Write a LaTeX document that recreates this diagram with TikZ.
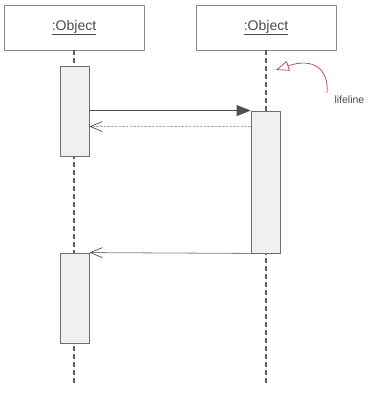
\documentclass[tikz,border=0pt]{standalone}
\usepackage{fontspec}
\setmainfont{Liberation Sans}
\usetikzlibrary{arrows.meta,positioning,calc}
\definecolor{SQBorder}  {HTML}{8A8A8A}
\definecolor{SQText}    {HTML}{4A4A4A}
\definecolor{SQLife}    {HTML}{5E5E5E}
\definecolor{SQActFill} {HTML}{F0F0F0}
\definecolor{SQActLine} {HTML}{6E6E6E}
\definecolor{SQMsg}     {HTML}{4F4F4F}
\definecolor{SQRet}     {HTML}{A8A8A8}
\definecolor{SQNote}    {HTML}{C0394B}

\tikzset{
  objbox/.style={draw=SQBorder,line width=0.9pt,minimum width=140pt,minimum height=45pt,
                 font=\fontsize{14}{16}\selectfont,text=SQText,inner sep=0pt},
  actbox/.style={draw=SQActLine,fill=SQActFill,line width=0.9pt,minimum width=29pt,inner sep=0pt},
  lifeln/.style={draw=SQLife,line width=1.4pt,dash pattern=on 5pt off 3pt},
  callmsg/.style={draw=SQMsg,line width=0.9pt,-{Triangle[length=14pt,width=11pt]}},
  retmsg/.style={draw=SQRet,line width=0.9pt,dash pattern=on 2.5pt off 1.2pt,
                 -{Straight Barb[length=12pt,width=10pt,line width=0.7pt,color=SQMsg]}},
  replymsg/.style={draw=SQRet!80!black,line width=0.8pt,
                 -{Straight Barb[length=12pt,width=10pt,line width=0.7pt,color=SQMsg]}}
}

\begin{document}
\begin{tikzpicture}[x=1pt,y=-1pt]
    \useasboundingbox (0,0) rectangle (368,394);
    % Objects
    \node[objbox] (objA) at (74,27.5)  {\underline{:Object}};
    \node[objbox] (objB) at (266,27.5) {\underline{:Object}};
    % Lifeline ends
    \coordinate (endA) at (74,384);
    \coordinate (endB) at (266,384);
    % Lifelines
    \draw[lifeln] (objA.south) -- (endA);
    \draw[lifeln] (objB.south) -- (endB);
    % Activations
    \node[actbox,minimum height=90pt]  (actA1) at (74.5,111)  {};
    \node[actbox,minimum height=142pt] (actB1) at (265.5,182) {};
    \node[actbox,minimum height=90pt]  (actA2) at (74.5,298)  {};
    % Call
    \draw[callmsg] (actA1.east |- actB1.north west) -- (actB1.north west);
    % Return
    \coordinate (retB) at ($(actB1.north west)+(0,16)$);
    \draw[retmsg] (retB) -- (actA1.east |- retB);
    % Reply
    \draw[replymsg] (actB1.south west) -- (actA2.north east);
    % Lifeline note
    \node[font=\fontsize{10.5}{12}\selectfont,text=SQText,anchor=west] (noteLife) at (331,100) {lifeline};
    \coordinate (noteTip) at (276,70);
    \draw[SQNote,line width=0.7pt,-{Triangle[open,length=13pt,width=10pt,fill=white]}]
      (noteLife.north west) ++(-4,0) .. controls (329,70) and (314,57) .. (noteTip);
\end{tikzpicture}
\end{document}
